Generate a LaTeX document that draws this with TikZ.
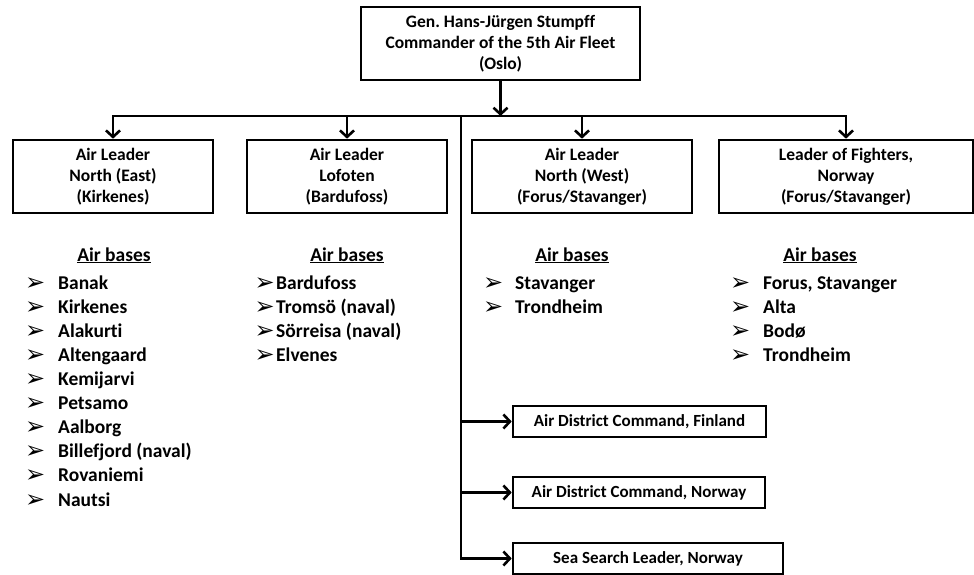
\documentclass[tikz,border=0pt]{standalone}
\usepackage{fontspec}
\setmainfont[Ligatures=NoCommon]{Carlito}
\newfontfamily\dejavu{DejaVu Sans Bold}
\usetikzlibrary{arrows.meta}
\newcommand\bul{{\dejavu\fontsize{24}{26}\selectfont ➢}}
\frenchspacing
\begin{document}
\begin{tikzpicture}[x=1pt,y=-1pt,
  box/.style={draw,line width=2.6pt,inner sep=0pt,align=center,
    font=\fontsize{17.5}{21}\selectfont\bfseries},
  sbox/.style={box,font=\fontsize{17}{20}\selectfont\bfseries},
  conn/.style={line width=2.6pt},
  arr/.style={conn,-{Straight Barb[length=6.5pt,width=14pt,line width=2.6pt]}},
  item/.style={inner sep=0pt,anchor=base west,font=\fontsize{19.5}{24}\selectfont\bfseries},
  head/.style={inner sep=0pt,anchor=base,font=\fontsize{19.5}{24}\selectfont\bfseries}]
\useasboundingbox (0,0) rectangle (974,575);
% boxes
\node[box,minimum width=279pt,minimum height=73pt] (top) at (500.5,43.5)
  {Gen. Hans-Jürgen Stumpff\\Commander of the 5th Air Fleet\\(Oslo)};
\node[box,minimum width=200pt,minimum height=73pt] (b1) at (113,176.5)
  {Air Leader\\North (East)\\(Kirkenes)};
\node[box,minimum width=200pt,minimum height=73pt] (b2) at (347,176.5)
  {Air Leader\\Lofoten\\(Bardufoss)};
\node[box,minimum width=220pt,minimum height=73pt] (b3) at (582,176.5)
  {Air Leader\\North (West)\\(Forus/Stavanger)};
\node[box,minimum width=254pt,minimum height=73pt] (b4) at (846,176.5)
  {Leader of Fighters,\\Norway\\(Forus/Stavanger)};
\node[sbox,minimum width=253pt,minimum height=31pt] (bA) at (639.5,421.5)
  {Air District Command, Finland};
\node[sbox,minimum width=252pt,minimum height=31pt] (bB) at (639,492.5)
  {Air District Command, Norway};
\node[sbox,minimum width=270pt,minimum height=31pt] (bC) at (648,558.5)
  {Sea Search Leader, Norway};
% connectors
\coordinate (hl) at (0,116);
\coordinate (tk) at (461,116);
\draw[arr] (top.south) -- (top.south |- hl);
\draw[arr] (top.south |- hl) -| (b1.north);
\draw[arr] (top.south |- hl) -| (b4.north);
\draw[arr] (b2.north |- hl) -- (b2.north);
\draw[arr] (b3.north |- hl) -- (b3.north);
\draw[arr] (tk) |- (bA.west);
\draw[arr] (tk) |- (bB.west);
\draw[arr] (tk) |- (bC.west);
% headings
\node[head] (h1) at (114,261) {\underline{Air bases}};
\node[head] (h2) at (347,261) {\underline{Air bases}};
\node[head] (h3) at (572,261) {\underline{Air bases}};
\node[head] (h4) at (820,261) {\underline{Air bases}};
% lists
\foreach \t [count=\i] in {Banak,Kirkenes,Alakurti,Altengaard,Kemijarvi,Petsamo,Aalborg,Billefjord (naval),Rovaniemi,Nautsi}{
  \node[item] (pa\i) at (25,266+24.1*\i) {\bul};
  \node[item] (ta\i) at (58,265+24.1*\i) {\t};
}
\foreach \t [count=\i] in {Bardufoss,Tromsö (naval),Sörreisa (naval),Elvenes}{
  \node[item] (tb\i) at (276,265+24.1*\i) {\t};
  \node[item,anchor=base east] (pb\i) at (275,266+24.1*\i) {\bul};
}
\foreach \t [count=\i] in {Stavanger,Trondheim}{
  \node[item] (pc\i) at (483,266+24.1*\i) {\bul};
  \node[item] (tc\i) at (515,265+24.1*\i) {\t};
}
\foreach \t [count=\i] in {{Forus, Stavanger},Alta,Bodø,Trondheim}{
  \node[item] (pd\i) at (730,266+24.1*\i) {\bul};
  \node[item] (td\i) at (763,265+24.1*\i) {\t};
}
\end{tikzpicture}
\end{document}
